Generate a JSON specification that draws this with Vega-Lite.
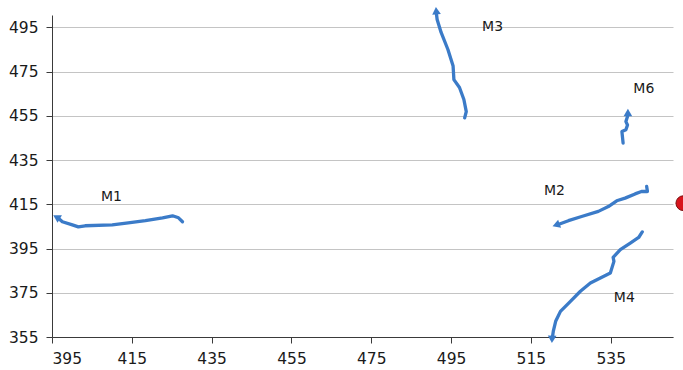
{
  "$schema": "https://vega.github.io/schema/vega-lite/v6.json",
  "autosize": "none",
  "width": 621,
  "height": 322,
  "padding": {"left": 52, "top": 15, "right": 10, "bottom": 33},
  "background": "white",
  "config": {
    "view": {"stroke": null},
    "axis": {"labelFont": "DejaVu Sans", "labelFontSize": 15.5, "labelColor": "#1a1a1a", "domainColor": "#3a3a3a", "tickColor": "#3a3a3a", "tickSize": 6, "title": null, "gridColor": "#c4c4c4", "gridWidth": 1}
  },
  "datasets": {
    "paths": [
      {"track": "M1", "i": 1, "x": 427.7, "y": 407.1},
      {"track": "M1", "i": 2, "x": 426.7, "y": 408.9},
      {"track": "M1", "i": 3, "x": 425.2, "y": 409.8},
      {"track": "M1", "i": 4, "x": 422.7, "y": 408.9},
      {"track": "M1", "i": 5, "x": 418.4, "y": 407.6},
      {"track": "M1", "i": 6, "x": 414.1, "y": 406.6},
      {"track": "M1", "i": 7, "x": 410.1, "y": 405.7},
      {"track": "M1", "i": 8, "x": 403.3, "y": 405.3},
      {"track": "M1", "i": 9, "x": 401.6, "y": 404.8},
      {"track": "M1", "i": 10, "x": 400.1, "y": 405.7},
      {"track": "M1", "i": 11, "x": 397.6, "y": 407.1},
      {"track": "M1", "i": 12, "x": 396.6, "y": 408.7},
      {"track": "M3", "i": 1, "x": 498.4, "y": 454.1},
      {"track": "M3", "i": 2, "x": 498.8, "y": 456.9},
      {"track": "M3", "i": 3, "x": 498.2, "y": 462.4},
      {"track": "M3", "i": 4, "x": 497.1, "y": 467.8},
      {"track": "M3", "i": 5, "x": 495.7, "y": 471.4},
      {"track": "M3", "i": 6, "x": 495.5, "y": 477.5},
      {"track": "M3", "i": 7, "x": 494.2, "y": 485.0},
      {"track": "M3", "i": 8, "x": 492.5, "y": 492.7},
      {"track": "M3", "i": 9, "x": 491.5, "y": 498.6},
      {"track": "M3", "i": 10, "x": 491.3, "y": 501.5},
      {"track": "M2", "i": 1, "x": 544.0, "y": 423.1},
      {"track": "M2", "i": 2, "x": 544.2, "y": 420.8},
      {"track": "M2", "i": 3, "x": 542.7, "y": 420.8},
      {"track": "M2", "i": 4, "x": 541.1, "y": 419.7},
      {"track": "M2", "i": 5, "x": 538.6, "y": 417.8},
      {"track": "M2", "i": 6, "x": 536.5, "y": 416.6},
      {"track": "M2", "i": 7, "x": 534.4, "y": 414.0},
      {"track": "M2", "i": 8, "x": 531.9, "y": 411.8},
      {"track": "M2", "i": 9, "x": 527.7, "y": 409.5},
      {"track": "M2", "i": 10, "x": 524.4, "y": 407.6},
      {"track": "M2", "i": 11, "x": 522.0, "y": 406.0},
      {"track": "M4", "i": 1, "x": 542.9, "y": 402.5},
      {"track": "M4", "i": 2, "x": 542.0, "y": 400.0},
      {"track": "M4", "i": 3, "x": 539.9, "y": 397.5},
      {"track": "M4", "i": 4, "x": 537.4, "y": 394.5},
      {"track": "M4", "i": 5, "x": 535.6, "y": 391.0},
      {"track": "M4", "i": 6, "x": 535.8, "y": 389.2},
      {"track": "M4", "i": 7, "x": 534.9, "y": 383.9},
      {"track": "M4", "i": 8, "x": 532.4, "y": 381.7},
      {"track": "M4", "i": 9, "x": 529.9, "y": 379.4},
      {"track": "M4", "i": 10, "x": 527.4, "y": 375.7},
      {"track": "M4", "i": 11, "x": 524.9, "y": 371.1},
      {"track": "M4", "i": 12, "x": 522.4, "y": 366.6},
      {"track": "M4", "i": 13, "x": 521.2, "y": 362.1},
      {"track": "M4", "i": 14, "x": 520.6, "y": 357.5},
      {"track": "M4", "i": 15, "x": 520.4, "y": 355.0},
      {"track": "M6", "i": 1, "x": 538.1, "y": 442.7},
      {"track": "M6", "i": 2, "x": 537.8, "y": 447.9},
      {"track": "M6", "i": 3, "x": 538.8, "y": 448.7},
      {"track": "M6", "i": 4, "x": 539.2, "y": 450.9},
      {"track": "M6", "i": 5, "x": 538.8, "y": 452.4},
      {"track": "M6", "i": 6, "x": 539.2, "y": 454.7},
      {"track": "M6", "i": 7, "x": 539.3, "y": 455.5}
    ],
    "arrows": [
      {"track": "M1", "x": 396.4, "y": 408.9, "heading": 300},
      {"track": "M3", "x": 491.3, "y": 502.0, "heading": 355},
      {"track": "M6", "x": 539.3, "y": 456.0, "heading": 0},
      {"track": "M2", "x": 521.6, "y": 405.8, "heading": 250},
      {"track": "M4", "x": 520.3, "y": 354.5, "heading": 182}
    ],
    "labels": [
      {"track": "M1", "x": 409.9, "y": 418.4},
      {"track": "M3", "x": 505.4, "y": 495.2},
      {"track": "M6", "x": 543.3, "y": 467.2},
      {"track": "M2", "x": 520.9, "y": 421.1},
      {"track": "M4", "x": 538.4, "y": 372.8}
    ],
    "target": [
      {"x": 553.2, "y": 415.5}
    ]
  },
  "layer": [
    {
      "data": {"name": "paths"},
      "mark": {"type": "line", "color": "#3b7bc8", "strokeWidth": 3.3, "strokeCap": "round", "strokeJoin": "round"},
      "encoding": {
        "x": {"field": "x", "type": "quantitative", "scale": {"domain": [395, 550.6], "nice": false, "zero": false},
              "axis": {"values": [395, 415, 435, 455, 475, 495, 515, 535], "grid": false, "labelPadding": 8}},
        "y": {"field": "y", "type": "quantitative", "scale": {"domain": [355, 500.6], "nice": false, "zero": false},
              "axis": {"values": [355, 375, 395, 415, 435, 455, 475, 495], "grid": true, "labelPadding": 8}},
        "detail": {"field": "track"},
        "order": {"field": "i"}
      }
    },
    {
      "data": {"name": "arrows"},
      "mark": {"type": "point", "shape": "triangle", "filled": true, "color": "#3b7bc8", "opacity": 1, "size": 75},
      "encoding": {
        "x": {"field": "x", "type": "quantitative"},
        "y": {"field": "y", "type": "quantitative"},
        "angle": {"field": "heading", "type": "quantitative", "scale": null}
      }
    },
    {
      "data": {"name": "labels"},
      "mark": {"type": "text", "font": "DejaVu Sans", "fontSize": 14, "color": "#1a1a1a", "align": "center", "baseline": "middle"},
      "encoding": {
        "x": {"field": "x", "type": "quantitative"},
        "y": {"field": "y", "type": "quantitative"},
        "text": {"field": "track"}
      }
    },
    {
      "data": {"name": "target"},
      "mark": {"type": "point", "shape": "circle", "filled": true, "color": "#d8141c", "stroke": "#7a1010", "strokeWidth": 1, "opacity": 1, "size": 220},
      "encoding": {
        "x": {"field": "x", "type": "quantitative"},
        "y": {"field": "y", "type": "quantitative"}
      }
    }
  ]
}
